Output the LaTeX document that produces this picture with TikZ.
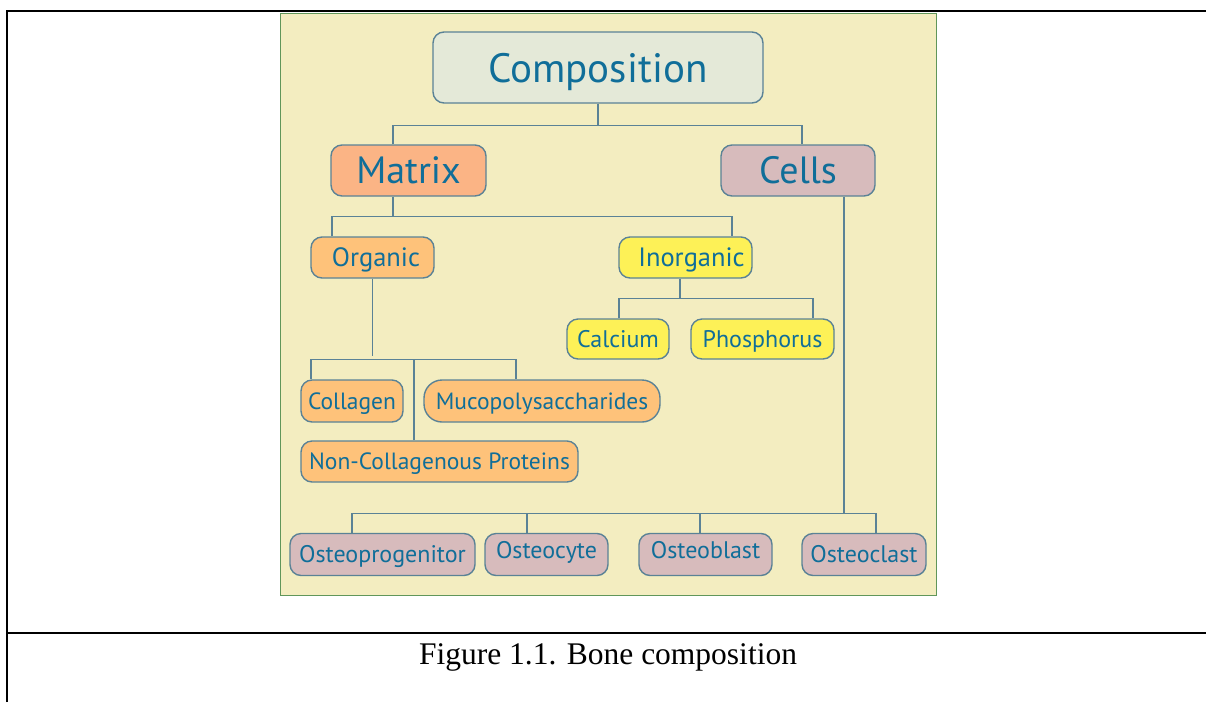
\documentclass[tikz,border=0pt]{standalone}
\usepackage{fontspec}
\newfontfamily\diagfont{PT Sans}
\newfontfamily\capfont{Liberation Serif}
\usetikzlibrary{positioning, calc}

\definecolor{fondo}{RGB}{243,237,192}
\definecolor{verdeBorde}{RGB}{96,150,90}
\definecolor{borde}{RGB}{90,130,150}
\definecolor{texto}{RGB}{16,110,153}
\definecolor{compC}{RGB}{228,233,216}
\definecolor{matC}{RGB}{251,180,133}
\definecolor{celC}{RGB}{215,187,188}
\definecolor{orgC}{RGB}{254,194,122}
\definecolor{inoC}{RGB}{253,241,87}

\tikzset{
  caja/.style={rectangle, rounded corners=11pt, draw=borde, line width=1.4pt, text=texto, inner sep=0pt, text centered, text depth=0pt},
  cajaComp/.style={caja, fill=compC, minimum width=330pt, minimum height=71pt, text height=29pt, font=\diagfont\fontsize{41}{43}\selectfont},
  cajaMat/.style={caja, fill=matC, minimum height=51pt, text height=26.6pt, font=\diagfont\fontsize{38}{40}\selectfont},
  cajaCelG/.style={caja, fill=celC, minimum height=51pt, text height=26.6pt, font=\diagfont\fontsize{38}{40}\selectfont},
  cajaOrg/.style={caja, fill=orgC, minimum height=41pt, text height=18.5pt, font=\diagfont\fontsize{26.5}{28}\selectfont},
  cajaOrgS/.style={caja, fill=orgC, minimum height=42pt, text height=16.5pt, font=\diagfont\fontsize{23.5}{25}\selectfont},
  cajaIno/.style={caja, fill=inoC, minimum height=40pt, text height=16.8pt, font=\diagfont\fontsize{24}{26}\selectfont},
  cajaCel/.style={caja, fill=celC, minimum height=42pt, text height=16.8pt, font=\diagfont\fontsize{24}{26}\selectfont},
  wire/.style={draw=borde, line width=1.3pt}
}

\begin{document}
\begin{tikzpicture}[x=1pt, y=-1pt]
    \useasboundingbox (0,0) rectangle (1206,702);

    % -------------------------------------------------------------
    % MARCO DE LA TABLA Y FONDO
    % -------------------------------------------------------------
    \draw[fill=fondo, draw=verdeBorde, line width=1pt] (280,13) rectangle (936,595);
    \draw[line width=2pt] (7,702) -- (7,11) -- (1206,11);
    \draw[line width=2pt] (7,633) -- (1206,633);
    \node[font=\capfont\fontsize{31.5}{33}\selectfont] (caption) at (608,657) {Figure 1.1. Bone composition};

    % -------------------------------------------------------------
    % CAJAS
    % -------------------------------------------------------------

    % 1. Nivel superior
    \node[cajaComp] (comp) at (598,67.5) {Composition};
    \node[cajaMat, minimum width=155pt] (matrix) at (408.5,170.5) {Matrix};
    \node[cajaCelG, minimum width=154pt] (cells) at (798,170.5) {Cells};

    % 2. Matriz organica / inorganica
    \node[cajaOrg, minimum width=123pt] (organic) at (372.5,257.5) {\hspace*{7pt}Organic};
    \node[cajaOrg, fill=inoC, minimum width=133pt] (inorganic) at (685.5,257.5) {\hspace*{12pt}Inorganic};
    \node[cajaIno, minimum width=102pt] (calcium) at (618,339) {Calcium};
    \node[cajaIno, minimum width=143pt] (phosphorus) at (762.5,339) {Phosphorus};

    \node[cajaOrgS, minimum width=102pt] (collagen) at (352,401) {Collagen};
    \node[cajaOrgS, minimum width=236pt, rounded corners=18pt] (muco) at (542,401) {Mucopolysaccharides};
    \node[cajaOrgS, minimum width=277pt, minimum height=41pt] (ncp) at (439.5,461.5) {Non-Collagenous Proteins};

    % 3. Celulas
    \foreach \nm/\cx/\w/\dd/\txt in {
        oprog/382.5/185/0/Osteoprogenitor, ocyte/546.5/123/8/Osteocyte,
        oblast/705.5/133/8/Osteoblast, oclast/864/124/0/Osteoclast
    } {
        \node[cajaCel, minimum width=\w pt, text depth=\dd pt] (\nm) at (\cx,554.5) {\txt};
    }

    % -------------------------------------------------------------
    % CONEXIONES
    % -------------------------------------------------------------

    % Composition -> Matrix, Cells
    \draw[wire] (comp.south) -- ++(0,22) coordinate (jc);
    \draw[wire] ([xshift=-15.5pt]matrix.north) |- (jc) -| ([xshift=4pt]cells.north);

    % Matrix -> Organic, Inorganic
    \draw[wire] ([xshift=-15.5pt]matrix.south) -- ++(0,20) coordinate (jm);
    \draw[wire] ([xshift=-40.5pt]organic.north) |- (jm) -| ([xshift=46.5pt]inorganic.north);

    % Inorganic -> Calcium, Phosphorus
    \draw[wire] ([xshift=-5.5pt]inorganic.south) -- ++(0,20) coordinate (ji);
    \draw[wire] ([xshift=1pt]calcium.north) |- (ji) -| ([xshift=50.5pt]phosphorus.north);

    % Organic -> Collagen, Mucopolysaccharides, Non-Collagenous
    \draw[wire] (organic.south) -- ++(0,77);
    \draw[wire] ([xshift=-41pt]collagen.north) -- ++(0,-20) coordinate (jo) -| ([xshift=-26pt]muco.north);
    \draw[wire] ([xshift=-25.5pt]ncp.north) -- ([xshift=-25.5pt]ncp.north |- jo);

    % Cells -> tipos celulares
    \draw[wire] ([xshift=46pt]cells.south) -- ++(0,317) coordinate (jcl);
    \draw[wire] ([xshift=-30.5pt]oprog.north) |- (jcl) -| ([xshift=12pt]oclast.north);
    \foreach \nm/\dx in {ocyte/-19.5, oblast/-5.5}
        \draw[wire] ([xshift=\dx pt]\nm.north) -- ++(0,-20);

\end{tikzpicture}
\end{document}
